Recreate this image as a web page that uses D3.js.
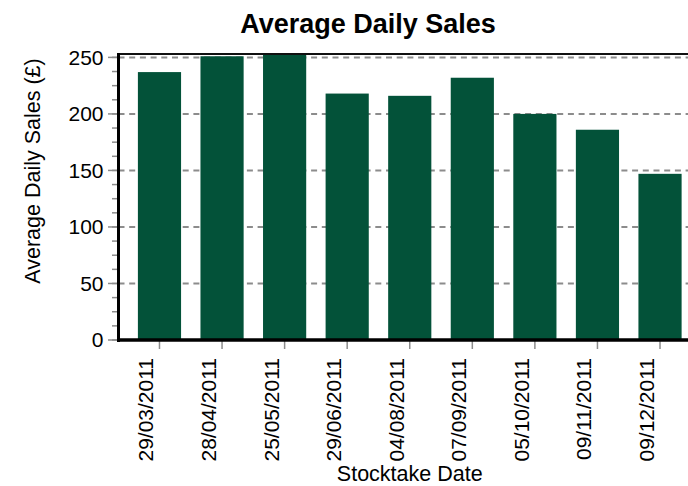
<!DOCTYPE html>
<html>
<head>
<meta charset="utf-8">
<script src="https://cdn.jsdelivr.net/npm/d3@7"></script>
<style>
  html, body { margin: 0; padding: 0; background: #fff; }
  svg { display: block; font-family: "Liberation Sans", Arial, sans-serif; }
</style>
</head>
<body>
<script>
"use strict";

var dates = ['29/03/2011', '28/04/2011', '25/05/2011', '29/06/2011', '04/08/2011',
             '07/09/2011', '05/10/2011', '09/11/2011', '09/12/2011'];
var sales = [237, 251, 255, 218, 216, 232, 200, 186, 147];
var y_ticks = [0, 50, 100, 150, 200, 250];
var y_minor = d3.range(0, 253, 12.5);

var width = 688, height = 486;
var plot = { left: 118.5, right: 701, top: 54, bottom: 340 };
var bar_colour = '#035239';
var grid_colour = '#8c8c8c';

var svg = d3.select('body').append('svg')
    .attr('width', width)
    .attr('height', height);

var x = d3.scaleBand()
    .domain(dates)
    .range([plot.left, plot.right])
    .paddingInner(0.31)
    .paddingOuter(0.31);

var y = d3.scaleLinear()
    .domain([0, 253])
    .range([plot.bottom, plot.top]);

svg.append('defs').append('clipPath').attr('id', 'plot-clip')
    .append('rect')
    .attr('x', plot.left).attr('y', plot.top)
    .attr('width', plot.right - plot.left).attr('height', plot.bottom - plot.top);

// dashed grid
svg.append('g').classed('grid', true)
    .selectAll('line')
    .data(y_ticks.filter(function(d) { return d > 0; }))
    .enter().append('line')
        .attr('x1', plot.left).attr('x2', plot.right)
        .attr('y1', function(d) { return y(d); })
        .attr('y2', function(d) { return y(d); })
        .attr('stroke', grid_colour)
        .attr('stroke-width', 2)
        .attr('stroke-dasharray', '6,4.7');

// bars
svg.append('g').attr('clip-path', 'url(#plot-clip)')
    .selectAll('rect')
    .data(sales)
    .enter().append('rect')
        .attr('x', function(d, i) { return x(dates[i]); })
        .attr('width', x.bandwidth())
        .attr('y', function(d) { return y(d); })
        .attr('height', function(d) { return y(0) - y(d); })
        .attr('fill', bar_colour);

// y axis: minor + major ticks
var y_axis = svg.append('g').classed('y-axis', true);

y_axis.selectAll('line.minor')
    .data(y_minor)
    .enter().append('line')
        .classed('minor', true)
        .attr('x1', 112).attr('x2', plot.left)
        .attr('y1', function(d) { return y(d); })
        .attr('y2', function(d) { return y(d); })
        .attr('stroke', grid_colour).attr('stroke-width', 1.5);

y_axis.selectAll('line.major')
    .data(y_ticks)
    .enter().append('line')
        .classed('major', true)
        .attr('x1', 108).attr('x2', plot.left)
        .attr('y1', function(d) { return y(d); })
        .attr('y2', function(d) { return y(d); })
        .attr('stroke', grid_colour).attr('stroke-width', 1.5);

y_axis.selectAll('text')
    .data(y_ticks)
    .enter().append('text')
        .attr('x', 103.5)
        .attr('y', function(d) { return y(d); })
        .attr('dy', '0.35em')
        .attr('text-anchor', 'end')
        .attr('font-size', 21)
        .attr('fill', '#000')
        .text(function(d) { return d; });

// x axis ticks and labels
var x_axis = svg.append('g').classed('x-axis', true);

x_axis.selectAll('line')
    .data(dates)
    .enter().append('line')
        .attr('x1', function(d) { return x(d) + x.bandwidth() / 2; })
        .attr('x2', function(d) { return x(d) + x.bandwidth() / 2; })
        .attr('y1', plot.bottom).attr('y2', 349)
        .attr('stroke', grid_colour).attr('stroke-width', 1.5);

x_axis.selectAll('text')
    .data(dates)
    .enter().append('text')
        .attr('transform', function(d) {
            return 'translate(' + (x(d) + x.bandwidth() / 2 - 6) + ',358) rotate(-90)';
        })
        .attr('text-anchor', 'end')
        .attr('font-size', 21)
        .attr('fill', '#000')
        .text(function(d) { return d; });

// frame: top border, thick left and bottom axis lines
svg.append('line')
    .attr('x1', plot.left).attr('x2', plot.right)
    .attr('y1', plot.top).attr('y2', plot.top)
    .attr('stroke', '#111').attr('stroke-width', 2);

svg.append('line')
    .attr('x1', plot.left).attr('x2', plot.left)
    .attr('y1', plot.top - 1).attr('y2', plot.bottom + 2)
    .attr('stroke', '#000').attr('stroke-width', 3);

svg.append('line')
    .attr('x1', plot.left - 1.5).attr('x2', plot.right)
    .attr('y1', plot.bottom).attr('y2', plot.bottom)
    .attr('stroke', '#000').attr('stroke-width', 3.5);

// titles
svg.append('text')
    .attr('x', 368).attr('y', 33)
    .attr('text-anchor', 'middle')
    .attr('font-size', 27)
    .attr('font-weight', 'bold')
    .text('Average Daily Sales');

svg.append('text')
    .attr('transform', 'translate(40,171) rotate(-90)')
    .attr('text-anchor', 'middle')
    .attr('font-size', 21.5)
    .text('Average Daily Sales (£)');

svg.append('text')
    .attr('x', (plot.left + plot.right) / 2).attr('y', 481)
    .attr('text-anchor', 'middle')
    .attr('font-size', 21.5)
    .text('Stocktake Date');
</script>
</body>
</html>
